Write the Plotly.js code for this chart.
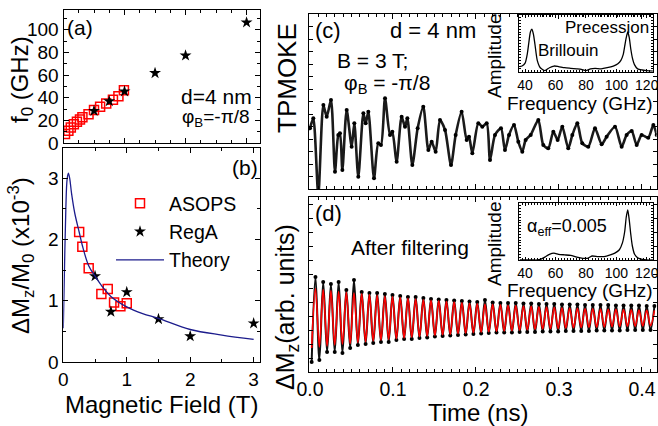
<!DOCTYPE html>
<html><head><meta charset="utf-8">
<script src="https://cdn.plot.ly/plotly-3.0.1.min.js"></script>
<style>html,body{margin:0;padding:0;background:#fff}#plot{width:658px;height:426px}</style>
</head><body><div id="plot"></div>
<script>
// ---- Panel (a): precession frequency vs field
const aAsopsB = [0.025,0.08,0.12,0.17,0.22,0.27,0.31,0.41,0.50,0.60,0.70,0.81,0.90,0.99];
const aAsopsF = [8.0,10.8,13.6,16.5,18.7,20.7,22.7,25.5,29.2,32.0,34.8,38.2,41.4,46.5];
const aRegaB = [0.5,0.75,1.0,1.5,2.0,3.0];
const aRegaF = [28.4,36.9,45.6,61.8,77.3,106.5];
// ---- Panel (b): amplitude vs field
const bAsopsB = [0.25,0.3,0.4,0.6,0.7,0.8,0.9,1.0];
const bAsopsV = [2.12,1.88,1.53,1.11,1.19,0.97,0.91,0.96];
const bRegaB = [0.5,0.75,1.0,1.5,2.0,3.0];
const bRegaV = [1.40,0.82,1.14,0.70,0.42,0.63];
const theoryB = [0,0.02,0.04,0.06,0.08,0.1,0.13,0.18,0.25,0.3,0.4,0.5,0.6,0.75,1.0,1.25,1.5,2.0,2.5,3.0];
const theoryV = [0.55,1.6,2.5,2.98,3.08,3.0,2.75,2.43,2.12,1.9,1.57,1.4,1.25,1.07,0.9,0.79,0.71,0.53,0.44,0.37];
// ---- Panel (c): raw TPMOKE trace (arb. units)
const cT = [0,0.0040,0.0100,0.0161,0.0201,0.0253,0.0301,0.0341,0.0361,0.0390,0.0442,0.0502,0.0534,0.0582,0.0643,0.0671,0.0703,0.0771,0.0823,0.0855,0.0904,0.0964,0.0992,0.1044,0.1104,0.1145,0.1173,0.1233,0.1297,0.1365,0.1426,0.1466,0.1514,0.1566,0.1627,0.1699,0.1755,0.1827,0.1888,0.1916,0.1956,0.2028,0.2076,0.2129,0.2169,0.2229,0.2301,0.2349,0.2398,0.2458,0.2510,0.2558,0.2598,0.2659,0.2751,0.2811,0.2871,0.2932,0.2984,0.3040,0.3112,0.3161,0.3221,0.3281,0.3353,0.3434,0.3514,0.3574,0.3675,0.3755,0.3815,0.3876,0.3936,0.3996,0.4076,0.4137,0.4177];
const cV = [60.7,70.7,-6,84,72.3,89,17.3,54,55.7,19,79,42.3,65.7,12.3,75.7,65.7,77.3,10.7,45.7,44,90.7,54,57.3,27.3,72.3,62.3,70.7,24,60.7,82.3,39,47.3,37.3,69,59,24,54,77.3,49,52.3,35.7,65.7,62.3,65.7,29,54,60.7,39,54,64,47.3,37.3,49,54,69,44,40.7,57.3,49,62.3,40.7,54,65.7,45.7,42.3,60.7,44.7,52.3,62.3,42.3,54,58,44,54,51.3,64,54];
// ---- Panel (d): filtered trace (black) and fit (red)
const dT = [0.0020,0.0066,0.0113,0.0159,0.0206,0.0252,0.0298,0.0345,0.0391,0.0438,0.0484,0.0530,0.0577,0.0623,0.0670,0.0716,0.0762,0.0809,0.0855,0.0902,0.0948,0.0994,0.1041,0.1087,0.1134,0.1180,0.1226,0.1273,0.1319,0.1366,0.1412,0.1458,0.1505,0.1551,0.1598,0.1644,0.1690,0.1737,0.1783,0.1830,0.1876,0.1922,0.1969,0.2015,0.2062,0.2108,0.2154,0.2201,0.2247,0.2294,0.2340,0.2386,0.2433,0.2479,0.2526,0.2572,0.2618,0.2665,0.2711,0.2758,0.2804,0.2850,0.2897,0.2943,0.2990,0.3036,0.3082,0.3129,0.3175,0.3222,0.3268,0.3314,0.3361,0.3407,0.3454,0.3500,0.3546,0.3593,0.3639,0.3686,0.3732,0.3778,0.3825,0.3871,0.3918,0.3964,0.4010,0.4057,0.4103,0.4150];
const dData = [10,95,12,90,20,88,20,90,19,82,24,92,27,80,28,79,29,79,30,78,30,77,32,76,33,75,33,75,34,74,34.5,73,35.5,72.5,36,72,36.5,71.5,37,71,37.5,70.5,38,70,38.5,72,39,69.5,39.5,69,39.5,69,39.5,69,40,68.5,40,68.5,40,68,40.5,68,40.5,68,40.5,67.5,41,67.5,41,67.5,41,67,41,67,41.5,67,41.5,67,41.5,66.5,41.5,66.5,42,66.5,42,66.5,42,66,42,66];
const dFit = [24,83.5,25,82.5,26,81.5,27,80.5,28,79.8,28.5,79,29.4,78.2,30.2,77.4,31,76.6,31.8,75.8,32.5,75.1,33.2,74.4,34,73.7,34.7,73,35.4,72.3,36,71.7,36.6,71.1,37.2,70.5,37.8,69.9,38.4,69.3,39,68.8,39.4,68.4,39.8,68,40.2,67.6,40.6,67.2,41,66.8,41.4,66.4,41.8,66,42.2,65.6,42.6,65.2,43,64.9,43.3,64.6,43.6,64.3,43.9,64,44.2,63.7,44.5,63.4,44.7,63.2,44.9,63,45.1,62.8,45.3,62.6,45.5,62.4,45.7,62.2,45.9,62,46.1,61.8,46.3,61.6];
// ---- Insets: FFT spectra
const specCf = [36.5,38,40,41.5,42.5,43.5,44.5,45.5,46.5,48,50,53,56,59,62,66,70,74,77,80,83,86,90,94,98,101,103,104.5,105.5,106.5,107.5,108.5,109.5,110.5,112,114,117,120,124];
const specCa = [0.09,0.1,0.15,0.32,0.52,0.7,0.75,0.66,0.48,0.2,0.07,0.02,0.07,0.1,0.09,0.07,0.06,0.05,0.04,0.02,0.05,0.06,0.05,0.07,0.1,0.14,0.2,0.3,0.45,0.6,0.7,0.6,0.4,0.25,0.12,0.05,0.03,0.02,0.01];
const specDf = [36.5,40,45,48,50,53,56,59,62,66,70,74,78,81,84,88,92,96,99,102,104,105.5,106.5,107.5,108.5,109.5,110.5,112,114,117,120,124];
const specDa = [0,0,0,0,0.01,0.05,0.1,0.12,0.1,0.09,0.08,0.05,0.03,0.03,0.07,0.06,0.06,0.09,0.12,0.18,0.3,0.5,0.75,0.88,0.7,0.45,0.25,0.1,0.04,0.01,0,0];

const FONT = 'Liberation Sans, Arial, sans-serif';
const W = 658, H = 426;
const px = v => v / W, py = v => 1 - v / H;

const traces = [
  {x:bAsopsB, y:bAsopsV, xaxis:'x2', yaxis:'y2', mode:'markers', name:'ASOPS',
   marker:{symbol:'square-open', size:9, color:'#ff0000', line:{width:1.5}}},
  {x:bRegaB, y:bRegaV, xaxis:'x2', yaxis:'y2', mode:'markers', name:'RegA',
   marker:{symbol:'star', size:9, color:'#000'}},
  {x:theoryB, y:theoryV, xaxis:'x2', yaxis:'y2', mode:'lines', name:'Theory',
   line:{color:'#1c1c8c', width:1.3, shape:'spline'}},
  {x:aAsopsB, y:aAsopsF, xaxis:'x', yaxis:'y', mode:'markers', showlegend:false,
   marker:{symbol:'square-open', size:9, color:'#ff0000', line:{width:1.5}}},
  {x:aRegaB, y:aRegaF, xaxis:'x', yaxis:'y', mode:'markers', showlegend:false,
   marker:{symbol:'star', size:9, color:'#000'}},
  {x:cT, y:cV, xaxis:'x3', yaxis:'y3', mode:'lines+markers', showlegend:false,
   line:{color:'#1a1a1a', width:2.6, shape:'spline', smoothing:0.7}, marker:{size:4, color:'#000'}},
  {x:dT, y:dData, xaxis:'x4', yaxis:'y4', mode:'lines+markers', showlegend:false,
   line:{color:'#111', width:2, shape:'spline', smoothing:1}, marker:{size:4, color:'#000'}},
  {x:dT, y:dFit, xaxis:'x4', yaxis:'y4', mode:'lines', showlegend:false,
   line:{color:'#ff0000', width:1.6, shape:'spline', smoothing:1}},
  {x:specCf, y:specCa, xaxis:'x5', yaxis:'y5', mode:'lines', showlegend:false,
   line:{color:'#000', width:1.3, shape:'spline', smoothing:0.6}},
  {x:specDf, y:specDa, xaxis:'x6', yaxis:'y6', mode:'lines', showlegend:false,
   line:{color:'#000', width:1.3, shape:'spline', smoothing:0.6}}
];

function ax(o){
  return Object.assign({showgrid:false, zeroline:false, showline:true, linecolor:'#000', linewidth:1,
    mirror:'allticks', ticks:'inside', ticklen:5, tickcolor:'#000', tickwidth:1,
    tickfont:{family:FONT, size:19, color:'#000'}}, o);
}

const layout = {
  width:W, height:H, margin:{l:0,r:0,t:0,b:0}, paper_bgcolor:'#fff', plot_bgcolor:'rgba(0,0,0,0)',
  font:{family:FONT, color:'#000'},
  showlegend:true,
  legend:{x:px(111), y:py(184), xanchor:'left', yanchor:'top', bgcolor:'rgba(0,0,0,0)',
          font:{family:FONT, size:19.5, color:'#000'}, itemwidth:48, tracegroupgap:0},
  xaxis: ax({domain:[px(63.5), px(260)], range:[0,3.22], dtick:1, showticklabels:false, anchor:'y',
             minor:{ticks:'inside', dtick:0.25, ticklen:3, tickcolor:'#000'}}),
  yaxis: ax({domain:[py(143), py(10)], range:[0,117.5], dtick:20, anchor:'x',
             minor:{ticks:'inside', dtick:10, ticklen:3, tickcolor:'#000'}}),
  xaxis2: ax({domain:[px(63.3), px(260)], range:[0,3.1], dtick:1, anchor:'y2',
             minor:{ticks:'inside', dtick:0.5, ticklen:3, tickcolor:'#000'}}),
  yaxis2: ax({domain:[py(362), py(148)], range:[0,3.49], dtick:1, anchor:'x2',
             minor:{ticks:'inside', dtick:0.5, ticklen:3, tickcolor:'#000'}}),
  xaxis3: ax({domain:[px(309), px(656.5)], range:[-0.0012,0.4175], dtick:0.1, showticklabels:false, anchor:'y3',
             minor:{ticks:'inside', dtick:0.01, ticklen:3, tickcolor:'#000'}}),
  yaxis3: ax({domain:[py(189), py(14)], range:[0,175], dtick:12.5, ticklen:4, showticklabels:false, anchor:'x3'}),
  xaxis4: ax({domain:[px(309), px(656.5)], range:[-0.0012,0.4175], dtick:0.1, tickformat:'.1f', anchor:'y4',
             tickfont:{family:FONT, size:19.5, color:'#000'},
             minor:{ticks:'inside', dtick:0.01, ticklen:3, tickcolor:'#000'}}),
  yaxis4: ax({domain:[py(372), py(197)], range:[0,175], dtick:14, ticklen:4, showticklabels:false, anchor:'x4'}),
  xaxis5: ax({domain:[px(519.3), px(653.3)], range:[36.2,124.3], dtick:20, anchor:'y5', ticklen:3,
             tickfont:{family:FONT, size:14, color:'#000'}, ticklabeloverflow:'allow',
             minor:{ticks:'inside', dtick:2, ticklen:2, tickcolor:'#000'}}),
  yaxis5: ax({domain:[py(71.7), py(15)], range:[0,1], showticklabels:false, anchor:'x5', dtick:0.05, ticklen:2}),
  xaxis6: ax({domain:[px(519.3), px(653.3)], range:[36.2,124.3], dtick:20, anchor:'y6', ticklen:3,
             tickfont:{family:FONT, size:14, color:'#000'}, ticklabeloverflow:'allow',
             minor:{ticks:'inside', dtick:2, ticklen:2, tickcolor:'#000'}}),
  yaxis6: ax({domain:[py(260), py(203)], range:[0,1], showticklabels:false, anchor:'x6', dtick:0.05, ticklen:2}),
  annotations: []
};

function ann(text, x, y, size, extra){
  layout.annotations.push(Object.assign({text:text, x:px(x), y:py(y), xref:'paper', yref:'paper',
    showarrow:false, xanchor:'center', yanchor:'middle', font:{family:FONT, size:size, color:'#000'}}, extra||{}));
}
ann('(a)', 80, 27, 21);
ann('d=4 nm', 216, 96, 21);
ann('φ<sub>B</sub>=-π/8', 216, 118, 19);
ann('(b)', 245, 168, 21);
ann('f<sub>0</sub> (GHz)', 21, 80, 24, {textangle:-90});
ann('ΔM<sub>z</sub>/M<sub>0</sub> (x10<sup>-3</sup>)', 21, 256, 24, {textangle:-90});
ann('Magnetic Field (T)', 161, 404, 24);
ann('TPMOKE', 287, 78, 26, {textangle:-90});
ann('ΔM<sub>z</sub>(arb. units)', 287, 307, 25, {textangle:-90});
ann('Time (ns)', 478, 412, 24);
ann('(c)', 328, 30, 22);
ann('d = 4 nm', 433, 30, 22);
ann('B = 3 T;', 372, 60, 21);
ann('φ<sub>B</sub> = -π/8', 387, 84, 21);
ann('(d)', 328, 213, 22);
ann('After filtering', 410, 248, 21);
ann('Precession', 607, 27, 17);
ann('Brillouin', 568, 50, 17);
ann('α<sub>eff</sub>=0.005', 567, 227, 18);
ann('Amplitude', 494, 56, 19, {textangle:-90});
ann('Amplitude', 494, 244, 19, {textangle:-90});
ann('Frequency (GHz)', 580, 103, 19);
ann('Frequency (GHz)', 580, 290, 19);

Plotly.newPlot('plot', traces, layout, {staticPlot:true, displayModeBar:false});
</script></body></html>
